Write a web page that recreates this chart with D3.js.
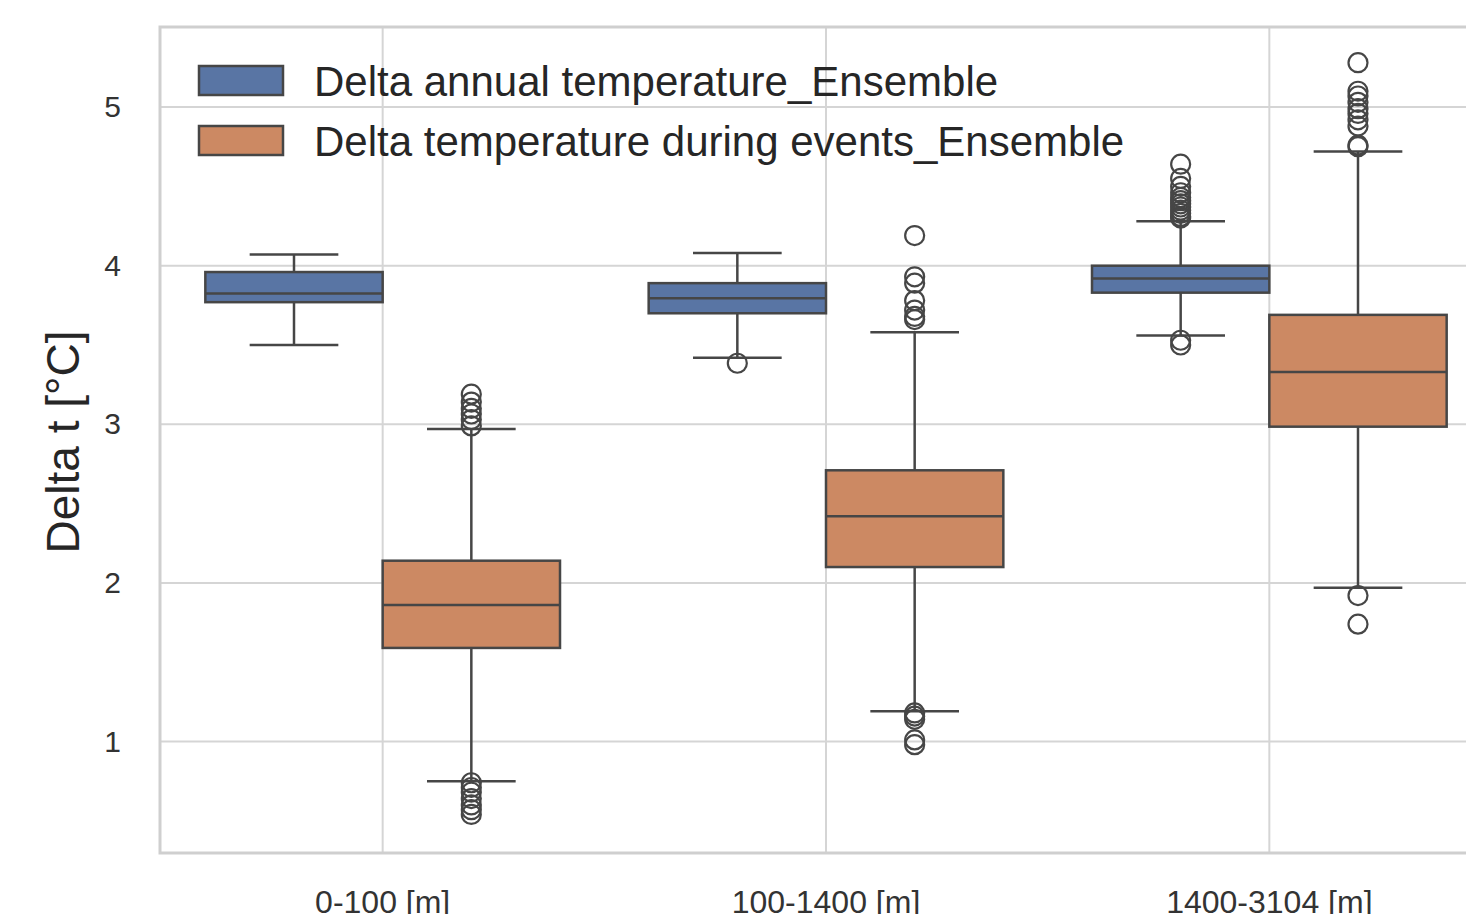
<!DOCTYPE html>
<html>
<head>
<title>Delta t boxplot</title>
<style>
  body { margin: 0; background: #ffffff; }
  svg text { font-family: "Liberation Sans", Arial, sans-serif; }
</style>
<script type="text/javascript" src="https://d3js.org/d3.v7.min.js"></script>
</head>
<body>
<svg id="chart" width="1466" height="914"></svg>
<script type="text/javascript">
// categories and series
const categories = ["0-100 [m]", "100-1400 [m]", "1400-3104 [m]"];
const seriesNames = ["Delta annual temperature_Ensemble", "Delta temperature during events_Ensemble"];
const yTicks = [1, 2, 3, 4, 5];

// [lower whisker, Q1, median, Q3, upper whisker] per category
const annualStats = [
  [3.50, 3.77, 3.825, 3.96, 4.07],
  [3.42, 3.70, 3.795, 3.89, 4.08],
  [3.56, 3.83, 3.92, 4.00, 4.28]
];
const eventsStats = [
  [0.75, 1.59, 1.86, 2.14, 2.97],
  [1.19, 2.10, 2.42, 2.71, 3.58],
  [1.97, 2.985, 3.33, 3.69, 4.72]
];

// outliers per category
const annualOutliers = [
  [],
  [3.385],
  [4.64, 4.55, 4.50, 4.46, 4.43, 4.41, 4.39, 4.37, 4.35, 4.33, 4.31, 4.30, 3.53, 3.50]
];
const eventsOutliers = [
  [3.19, 3.14, 3.10, 3.065, 3.03, 2.99, 0.74, 0.71, 0.68, 0.64, 0.60, 0.57, 0.54],
  [4.19, 3.93, 3.89, 3.78, 3.72, 3.68, 3.66, 1.18, 1.16, 1.14, 1.01, 0.98],
  [5.28, 5.10, 5.07, 5.03, 4.99, 4.96, 4.92, 4.88, 4.76, 4.75, 1.92, 1.74]
];

const colors = ["#5975a4", "#cc8963"];
const LINE = "#464646";
const GRID = "#d5d5d5";

const svg = d3.select("#chart");
const LEFT = 161, RIGHT = 1491, TOP = 27, BOTTOM = 853;

const xScale = d3.scaleBand().domain(categories).range([LEFT, RIGHT]).padding(0);
const subScale = d3.scaleBand().domain(seriesNames).range([0, xScale.bandwidth()])
                   .paddingInner(0).paddingOuter(0.25);
const yScale = d3.scaleLinear().domain([0.297, 5.505]).range([BOTTOM, TOP]);

svg.append("rect").attr("width", 1466).attr("height", 914).attr("fill", "#ffffff");

// grid
svg.append("g").selectAll("line").data(yTicks).join("line")
   .attr("x1", LEFT).attr("x2", RIGHT)
   .attr("y1", d => yScale(d)).attr("y2", d => yScale(d))
   .attr("stroke", GRID).attr("stroke-width", 2);
svg.append("g").selectAll("line").data(categories).join("line")
   .attr("x1", d => xScale(d) + xScale.bandwidth() / 2).attr("x2", d => xScale(d) + xScale.bandwidth() / 2)
   .attr("y1", TOP).attr("y2", BOTTOM)
   .attr("stroke", GRID).attr("stroke-width", 2);

// frame
svg.append("rect").attr("x", LEFT - 1).attr("y", TOP).attr("width", RIGHT - LEFT + 1).attr("height", BOTTOM - TOP)
   .attr("fill", "none").attr("stroke", "#cfcfcf").attr("stroke-width", 3);

// axes
const yAxis = d3.axisLeft(yScale).tickValues(yTicks).tickSize(0).tickPadding(40).tickFormat(d3.format("d"));
const gy = svg.append("g").attr("transform", `translate(${LEFT},0)`).call(yAxis);
gy.select(".domain").remove();
gy.selectAll("text").attr("font-size", 30).attr("fill", "#333333");

const xAxis = d3.axisBottom(xScale).tickSize(0).tickPadding(37);
const gx = svg.append("g").attr("transform", `translate(0,${BOTTOM})`).call(xAxis);
gx.select(".domain").remove();
gx.selectAll("text").attr("font-size", 32).attr("fill", "#333333");

svg.append("text")
   .attr("transform", `translate(79, ${(TOP + BOTTOM) / 2 + 2}) rotate(-90)`)
   .attr("text-anchor", "middle")
   .attr("font-size", 46)
   .attr("fill", "#262626")
   .text("Delta t [°C]");

// boxes
const allStats = [annualStats, eventsStats];
const allOutliers = [annualOutliers, eventsOutliers];

seriesNames.forEach((s, si) => {
  const g = svg.append("g");
  const w = subScale.bandwidth();
  categories.forEach((c, ci) => {
    const st = allStats[si][ci];
    const x0 = xScale(c) + subScale(s);
    const cx = x0 + w / 2;
    // whiskers
    g.append("line").attr("x1", cx).attr("x2", cx)
     .attr("y1", yScale(st[0])).attr("y2", yScale(st[1]))
     .attr("stroke", LINE).attr("stroke-width", 2.5);
    g.append("line").attr("x1", cx).attr("x2", cx)
     .attr("y1", yScale(st[3])).attr("y2", yScale(st[4]))
     .attr("stroke", LINE).attr("stroke-width", 2.5);
    [st[0], st[4]].forEach(v => {
      g.append("line").attr("x1", cx - w / 4).attr("x2", cx + w / 4)
       .attr("y1", yScale(v)).attr("y2", yScale(v))
       .attr("stroke", LINE).attr("stroke-width", 2.5);
    });
    g.append("rect").attr("x", x0).attr("width", w)
     .attr("y", yScale(st[3])).attr("height", yScale(st[1]) - yScale(st[3]))
     .attr("fill", colors[si]).attr("stroke", LINE).attr("stroke-width", 2.5);
    g.append("line").attr("x1", x0).attr("x2", x0 + w)
     .attr("y1", yScale(st[2])).attr("y2", yScale(st[2]))
     .attr("stroke", LINE).attr("stroke-width", 2.5);
    g.selectAll(null).data(allOutliers[si][ci]).join("circle")
     .attr("cx", cx).attr("cy", d => yScale(d)).attr("r", 9.5)
     .attr("fill", "none").attr("stroke", LINE).attr("stroke-width", 2.2);
  });
});

// legend
const legend = svg.append("g");
seriesNames.forEach((s, i) => {
  legend.append("rect").attr("x", 199).attr("y", 66 + i * 60).attr("width", 84).attr("height", 29)
        .attr("fill", colors[i]).attr("stroke", LINE).attr("stroke-width", 2.5);
  legend.append("text").attr("x", 314).attr("y", 96 + i * 60)
        .attr("font-size", 42).attr("fill", "#262626").text(s);
});
</script>
</body>
</html>
